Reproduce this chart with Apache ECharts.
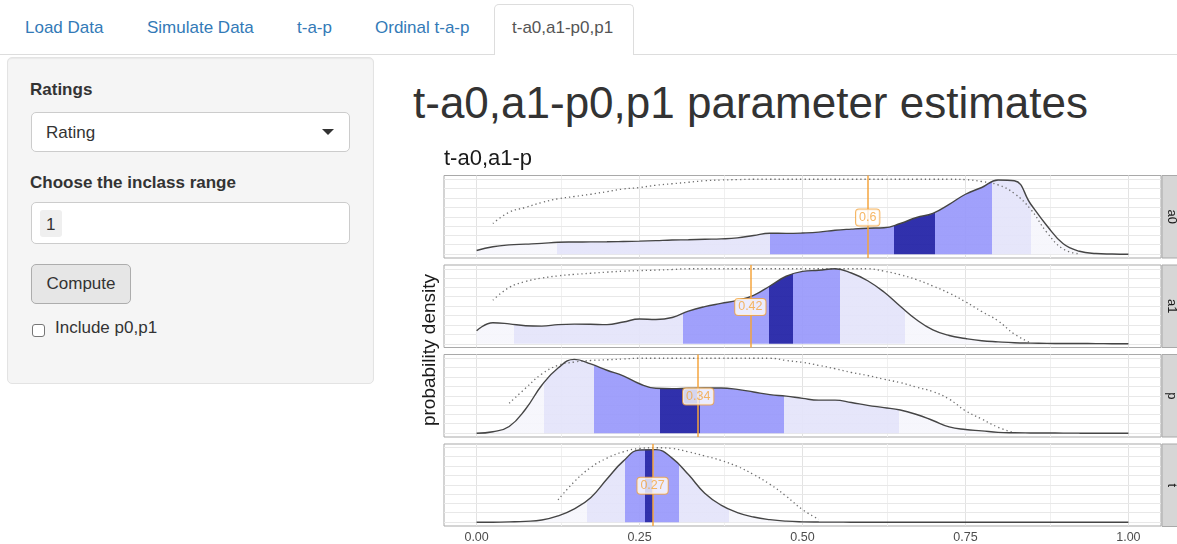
<!DOCTYPE html>
<html><head><meta charset="utf-8">
<script src="https://cdn.jsdelivr.net/npm/echarts@6/dist/echarts.min.js"></script>
<style>
html,body{margin:0;padding:0}
body{width:1177px;height:544px;overflow:hidden;background:#fff;font-family:"Liberation Sans",Arial,Helvetica,sans-serif;color:#333;position:relative}
.abs{position:absolute;white-space:nowrap}
.tab{font-size:17px;line-height:17px;color:#337ab7;top:19px}
.navline{left:0;top:54px;width:1177px;height:1px;background:#ddd}
.activetab{left:494px;top:4px;width:140px;height:51px;background:#fff;border:1px solid #ddd;border-bottom:none;border-radius:5px 5px 0 0;box-sizing:border-box}
.well{left:7px;top:57px;width:367px;height:327px;background:#f5f5f5;border:1px solid #e3e3e3;border-radius:5px;box-sizing:border-box;box-shadow:inset 0 1px 1px rgba(0,0,0,.05)}
.lbl{font-size:17px;line-height:17px;font-weight:bold}
.txt{font-size:17px;line-height:17px}
.box{background:#fff;border:1px solid #ccc;border-radius:5px;box-sizing:border-box}
.chip{background:#efefef;border-radius:3px}
.btn{background:#e6e6e6;border:1px solid #adadad;border-radius:5px;box-sizing:border-box;font-size:17px;line-height:38px;text-align:center}
.chk{border:1px solid #767676;border-radius:3px;background:#fff;box-sizing:border-box}
.caret{width:0;height:0;border-left:6px solid transparent;border-right:6px solid transparent;border-top:6px solid #333}
h1{margin:0;font-weight:normal;font-size:44px;line-height:44px}
#chart{position:absolute;left:400px;top:140px;width:777px;height:404px}
</style>
</head>
<body>
<div class="abs navline"></div>
<div class="abs activetab"></div>
<div class="abs tab" style="left:25px">Load Data</div>
<div class="abs tab" style="left:147px">Simulate Data</div>
<div class="abs tab" style="left:297px">t-a-p</div>
<div class="abs tab" style="left:375px">Ordinal t-a-p</div>
<div class="abs tab" style="left:512px;color:#555">t-a0,a1-p0,p1</div>

<div class="abs well"></div>
<div class="abs lbl" style="left:30px;top:81px">Ratings</div>
<div class="abs box" style="left:31px;top:112px;width:319px;height:40px"></div>
<div class="abs txt" style="left:46px;top:124px">Rating</div>
<div class="abs caret" style="left:322px;top:129px"></div>
<div class="abs lbl" style="left:30px;top:174px">Choose the inclass range</div>
<div class="abs box" style="left:31px;top:202px;width:319px;height:42px"></div>
<div class="abs chip" style="left:40px;top:210px;width:22px;height:27px"></div>
<div class="abs txt" style="left:46px;top:216px">1</div>
<div class="abs btn" style="left:31px;top:264px;width:100px;height:40px">Compute</div>
<div class="abs chk" style="left:32px;top:324px;width:13px;height:13px"></div>
<div class="abs txt" style="left:55px;top:319px">Include p0,p1</div>

<h1 class="abs" style="left:413px;top:81px">t-a0,a1-p0,p1 parameter estimates</h1>

<div id="chart"></div>
<script>
// ---------------- data ----------------
const xs = [0,0.025,0.05,0.075,0.1,0.125,0.15,0.175,0.2,0.225,0.25,0.275,0.3,0.325,0.35,0.375,0.4,0.425,0.45,0.475,0.5,0.525,0.55,0.575,0.6,0.625,0.65,0.675,0.7,0.725,0.75,0.775,0.8,0.825,0.85,0.875,0.9,0.925,0.95,0.975,1];

const densA0 = [0.05,0.10,0.125,0.135,0.145,0.16,0.163,0.165,0.166,0.17,0.175,0.182,0.19,0.194,0.2,0.205,0.218,0.25,0.28,0.278,0.283,0.295,0.32,0.335,0.347,0.353,0.41,0.49,0.545,0.665,0.8,0.89,0.99,0.98,0.67,0.38,0.14,0.04,0.01,0.003,0];
const dotA0 = [null,0.41,0.56,0.625,0.69,0.74,0.77,0.80,0.835,0.87,0.89,0.92,0.94,0.96,0.98,0.99,0.995,1,1,1,1,1,1,1,1,1,1,1,1,1,0.995,0.97,0.925,0.81,0.60,0.29,0.07,0.005,null,null,null];

const densA1 = [0.174,0.28,0.265,0.24,0.235,0.255,0.262,0.26,0.255,0.29,0.33,0.324,0.35,0.435,0.495,0.538,0.578,0.645,0.77,0.9,0.965,0.98,1.0,0.943,0.84,0.69,0.50,0.32,0.185,0.11,0.07,0.04,0.025,0.013,0.008,0.005,0.004,0.003,0.002,0.001,0];
const dotA1 = [null,0.58,0.75,0.83,0.875,0.905,0.925,0.94,0.955,0.968,0.975,0.982,0.99,1,1,1,1,1,1,1,1,1,1,1,1,0.968,0.92,0.855,0.77,0.675,0.56,0.43,0.305,0.13,0.01,null,null,null,null,null,null];

const densP = [0,0.02,0.09,0.32,0.64,0.87,0.985,0.925,0.84,0.765,0.66,0.6,0.595,0.6,0.603,0.603,0.585,0.55,0.515,0.495,0.465,0.442,0.442,0.41,0.372,0.342,0.31,0.25,0.17,0.085,0.05,0.032,0.012,0.006,0.004,0.003,0.002,0.001,0.001,0,0];
const dotP = [null,null,0.40,0.6,0.79,0.905,0.95,0.97,0.98,0.99,1,1,1,1,1,1,1,1,1,0.97,0.945,0.905,0.86,0.81,0.77,0.72,0.675,0.615,0.555,0.455,0.3,0.19,0.08,0.005,null,null,null,null,null,null,null];

const densT = [0,0.001,0.005,0.012,0.03,0.085,0.18,0.33,0.58,0.82,0.97,0.975,0.86,0.64,0.39,0.23,0.13,0.07,0.035,0.015,0.006,0.003,0.002,0.001,0.001,0,0,0,0,0,0,0,0,0,0,0,0,0,0,0,0];
const dotT = [null,null,null,null,null,0.3,0.545,0.735,0.86,0.945,0.99,1,0.99,0.945,0.89,0.83,0.75,0.64,0.51,0.35,0.17,0.04,null,null,null,null,null,null,null,null,null,null,null,null,null,null,null,null,null,null,null];

const panelNames = ['a0','a1','p','t'];
const densities = [densA0, densA1, densP, densT];
const dotted = [dotA0, dotA1, dotP, dotT];
const estimates = [0.6, 0.42, 0.34, 0.27];
const estimateLabels = ['0.6','0.42','0.34','0.27'];
const labelY = [0.49, 0.49, 0.49, 0.49];
const interval95 = [[0.123,0.851],[0.057,0.657],[0.103,0.648],[0.17,0.387]];
const interval50 = [[0.45,0.791],[0.317,0.557],[0.18,0.471],[0.227,0.31]];
const interval10 = [[0.641,0.704],[0.449,0.485],[0.281,0.342],[0.259,0.271]];
const xTickValues = [0, 0.25, 0.5, 0.75, 1];
const xMinorValues = [0.125, 0.375, 0.625, 0.875];
const yGridValues = [0, 0.125, 0.25, 0.375, 0.5, 0.625, 0.75, 0.875, 1];
const plotTitle = 't-a0,a1-p';
const yTitle = 'probability density';

// ---------------- layout / style ----------------
const PANEL_LEFT = 44, PANEL_W = 717, PANEL_H = 82.5;
const PANEL_TOPS = [35.5, 125, 214.5, 304];
const C_FAINT = '#f6f6fc', C_LIGHT = '#e4e4fa', C_MID = '#9999fb', C_DARK = '#2121a6';
const C_ORANGE = '#f4a53e';
const SMOOTH = 0.45;

const chart = echarts.init(document.getElementById('chart'), null, {renderer: 'canvas'});
const grids = [], xAxes = [], yAxes = [], series = [], visualMaps = [], graphics = [];

panelNames.forEach((name, i) => {
  grids.push({left: PANEL_LEFT, top: PANEL_TOPS[i], width: PANEL_W, height: PANEL_H,
    show: true, backgroundColor: '#ffffff', borderColor: '#a9a9a9', borderWidth: 1});
  const last = i === panelNames.length - 1;
  xAxes.push({type: 'value', gridIndex: i, min: -0.05, max: 1.05,
    axisLine: {show: false}, splitLine: {show: false},
    axisTick: last ? {show: true, customValues: xTickValues, length: 3, lineStyle: {color: '#b3b3b3'}} : {show: false},
    axisLabel: last ? {show: true, customValues: xTickValues, formatter: v => v.toFixed(2),
      fontSize: 12.5, color: '#4d4d4d', margin: 5, fontFamily: 'Liberation Sans'} : {show: false}});
  yAxes.push({type: 'value', gridIndex: i, min: -0.05, max: 1.05, show: false});

  const gl = [];
  xTickValues.forEach(v => gl.push({xAxis: v, lineStyle: {color: '#e3e3e3', width: 1, type: 'solid'}}));
  xMinorValues.forEach(v => gl.push({xAxis: v, lineStyle: {color: '#f0f0f0', width: 1, type: 'solid'}}));
  yGridValues.forEach(v => gl.push({yAxis: v, lineStyle: {color: '#e8e8e8', width: 1, type: 'solid'}}));
  series.push({type: 'line', xAxisIndex: i, yAxisIndex: i, data: [], z: 1, silent: true,
    markLine: {z: 1, silent: true, symbol: ['none','none'], label: {show: false}, animation: false, data: gl}});

  const pts = xs.map((x, k) => [x, densities[i][k]]);
  const fillIdx = series.length;
  series.push({type: 'line', xAxisIndex: i, yAxisIndex: i, data: pts, smooth: SMOOTH,
    symbol: 'none', lineStyle: {width: 0}, areaStyle: {opacity: 0.93}, z: 2, silent: true});
  const [l95, h95] = interval95[i], [l50, h50] = interval50[i], [l10, h10] = interval10[i];
  visualMaps.push({type: 'piecewise', show: false, dimension: 0, seriesIndex: fillIdx,
    pieces: [
      {lt: l95, color: C_FAINT},
      {gte: l95, lt: l50, color: C_LIGHT},
      {gte: l50, lt: l10, color: C_MID},
      {gte: l10, lte: h10, color: C_DARK},
      {gt: h10, lte: h50, color: C_MID},
      {gt: h50, lte: h95, color: C_LIGHT},
      {gt: h95, color: C_FAINT}
    ]});

  series.push({type: 'line', xAxisIndex: i, yAxisIndex: i, data: xs.map((x, k) => [x, dotted[i][k]]),
    smooth: SMOOTH, symbol: 'none', connectNulls: false, silent: true,
    lineStyle: {color: '#6e6e6e', width: 1.3, type: [1.3, 3]}, z: 3});
  series.push({type: 'line', xAxisIndex: i, yAxisIndex: i, data: pts, smooth: SMOOTH,
    symbol: 'none', silent: true, lineStyle: {color: '#454545', width: 1.4}, z: 4});
  series.push({type: 'scatter', xAxisIndex: i, yAxisIndex: i, data: [[estimates[i], labelY[i]]],
    symbolSize: 0, z: 7, silent: true,
    label: {show: true, position: 'inside', formatter: () => estimateLabels[i], color: C_ORANGE,
      fontSize: 12.5, fontFamily: 'Liberation Sans', backgroundColor: '#ffffff', borderColor: C_ORANGE,
      borderWidth: 1, borderRadius: 3, padding: [2, 3, 1, 3]},
    markLine: {z: 6, silent: true, symbol: ['none','none'], label: {show: false}, animation: false,
      lineStyle: {color: C_ORANGE, width: 1.5, type: 'solid'}, data: [{xAxis: estimates[i]}]}});

  // facet strip
  graphics.push({type: 'rect', shape: {x: PANEL_LEFT + PANEL_W + 1, y: PANEL_TOPS[i], width: 30, height: PANEL_H},
    style: {fill: '#d6d6d6', stroke: '#a9a9a9', lineWidth: 1}, silent: true});
  graphics.push({type: 'text', x: PANEL_LEFT + PANEL_W + 11, y: PANEL_TOPS[i] + PANEL_H / 2, rotation: -Math.PI / 2,
    style: {text: name, fill: '#1a1a1a', fontSize: 13, fontFamily: 'Liberation Sans', align: 'center', verticalAlign: 'middle'}, silent: true});
});

graphics.push({type: 'text', x: PANEL_LEFT, y: 18.5,
  style: {text: plotTitle, fill: '#1a1a1a', fontSize: 22, fontFamily: 'Liberation Sans', align: 'left', verticalAlign: 'middle'}, silent: true});
graphics.push({type: 'text', x: 30, y: 210, rotation: Math.PI / 2,
  style: {text: yTitle, fill: '#1a1a1a', fontSize: 19, fontFamily: 'Liberation Sans', align: 'center', verticalAlign: 'middle'}, silent: true});

chart.setOption({
  animation: false,
  grid: grids, xAxis: xAxes, yAxis: yAxes,
  visualMap: visualMaps,
  series: series,
  graphic: graphics
});
</script>
</body></html>
